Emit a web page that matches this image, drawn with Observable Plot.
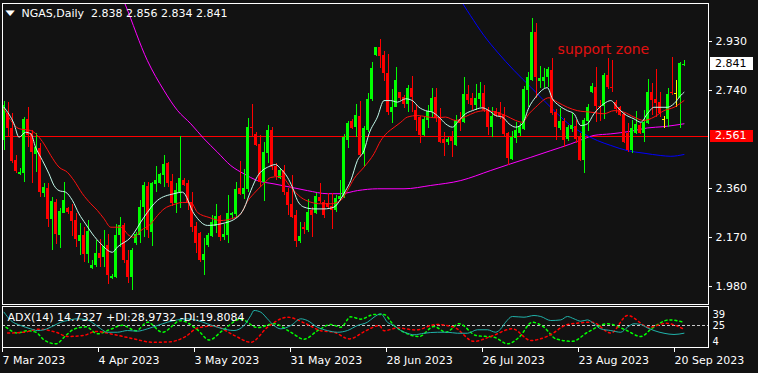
<!DOCTYPE html>
<html><head><meta charset="utf-8">
<script src="https://cdn.jsdelivr.net/npm/d3@7"></script>
<script src="https://cdn.jsdelivr.net/npm/@observablehq/plot@0.6"></script>
<style>
html,body{margin:0;padding:0;background:#121212;}
#wrap{position:relative;width:758px;height:373px;overflow:hidden;background:#121212;}
#wrap svg{position:absolute;left:0;}
.lbl{position:absolute;left:710px;width:38px;padding-left:5px;font:11px "DejaVu Sans",sans-serif;}
</style></head><body><div id="wrap"></div>
<script>
// ---- daily OHLC, bar index 0..170 ----
const open = [2.546,2.650,2.592,2.469,2.414,2.417,2.626,2.572,2.492,2.514,
2.340,2.361,2.240,2.307,2.178,2.264,2.281,2.272,2.236,2.156,
2.178,2.104,2.049,2.062,2.109,2.094,2.139,2.012,2.014,2.178,
2.217,2.081,2.014,2.146,2.178,2.288,2.368,2.191,2.376,2.378,
2.411,2.458,2.387,2.303,2.346,2.391,2.378,2.307,2.213,2.187,
2.081,2.139,2.174,2.213,2.252,2.171,2.178,2.255,2.259,2.359,
2.337,2.355,2.597,2.569,2.531,2.385,2.495,2.585,2.445,2.398,
2.430,2.346,2.298,2.255,2.156,2.210,2.197,2.275,2.264,2.326,
2.307,2.301,2.290,2.275,2.316,2.326,2.546,2.621,2.598,2.639,
2.492,2.585,2.704,2.876,2.906,2.876,2.807,2.656,2.675,2.733,
2.712,2.686,2.747,2.663,2.637,2.566,2.624,2.656,2.712,2.634,
2.549,2.540,2.559,2.527,2.624,2.617,2.725,2.708,2.682,2.704,
2.727,2.665,2.598,2.660,2.656,2.647,2.574,2.471,2.553,2.572,
2.588,2.740,2.779,2.966,2.776,2.776,2.792,2.818,2.656,2.592,
2.621,2.549,2.588,2.601,2.559,2.469,2.621,2.733,2.751,2.678,
2.678,2.798,2.753,2.695,2.673,2.647,2.574,2.507,2.574,2.604,
2.574,2.613,2.733,2.704,2.695,2.626,2.626,2.732,2.727,2.708,
2.838];
const high = [2.697,2.695,2.650,2.488,2.437,2.634,2.675,2.585,2.572,2.533,
2.378,2.378,2.326,2.316,2.281,2.385,2.288,2.298,2.262,2.226,
2.210,2.236,2.081,2.159,2.161,2.197,2.182,2.027,2.221,2.249,
2.223,2.120,2.126,2.191,2.314,2.385,2.385,2.385,2.445,2.418,
2.488,2.462,2.414,2.378,2.562,2.398,2.391,2.346,2.229,2.191,
2.165,2.184,2.255,2.298,2.255,2.221,2.333,2.268,2.385,2.465,
2.433,2.630,2.686,2.578,2.566,2.540,2.604,2.598,2.456,2.437,
2.449,2.359,2.411,2.275,2.229,2.229,2.316,2.288,2.342,2.378,
2.314,2.340,2.340,2.333,2.391,2.570,2.621,2.626,2.686,2.699,
2.601,2.727,2.850,2.908,2.937,2.892,2.880,2.743,2.828,2.733,
2.721,2.759,2.794,2.682,2.639,2.639,2.682,2.747,2.747,2.669,
2.578,2.559,2.582,2.643,2.656,2.789,2.759,2.727,2.763,2.772,
2.759,2.675,2.673,2.669,2.695,2.673,2.578,2.582,2.617,2.611,
2.756,2.811,3.018,2.999,2.833,2.825,2.828,2.863,2.665,2.669,
2.630,2.604,2.650,2.624,2.572,2.630,2.686,2.768,2.830,2.701,
2.805,2.863,2.856,2.701,2.678,2.652,2.611,2.624,2.660,2.611,
2.663,2.782,2.766,2.820,2.733,2.639,2.747,2.869,2.779,2.848,
2.856];
const low = [2.507,2.559,2.456,2.419,2.411,2.385,2.520,2.378,2.423,2.326,
2.324,2.210,2.120,2.143,2.129,2.262,2.259,2.174,2.133,2.100,
2.074,2.071,2.045,2.053,2.053,2.055,1.988,2.006,2.010,2.133,
2.068,1.991,1.965,2.139,2.147,2.171,2.165,2.136,2.346,2.376,
2.363,2.363,2.290,2.264,2.281,2.368,2.275,2.191,2.107,2.074,
2.023,2.133,2.169,2.184,2.156,2.159,2.146,2.243,2.249,2.333,
2.316,2.346,2.559,2.523,2.365,2.311,2.456,2.430,2.391,2.394,
2.333,2.255,2.243,2.133,2.146,2.182,2.191,2.169,2.259,2.301,
2.243,2.281,2.200,2.268,2.311,2.320,2.514,2.588,2.557,2.481,
2.443,2.578,2.699,2.872,2.824,2.776,2.643,2.613,2.673,2.701,
2.669,2.656,2.656,2.582,2.533,2.562,2.592,2.637,2.617,2.533,
2.485,2.527,2.481,2.523,2.582,2.611,2.686,2.663,2.663,2.675,
2.656,2.566,2.559,2.634,2.626,2.562,2.449,2.469,2.533,2.562,
2.585,2.675,2.776,2.708,2.747,2.748,2.753,2.643,2.546,2.585,
2.520,2.543,2.578,2.533,2.466,2.419,2.582,2.727,2.617,2.621,
2.626,2.743,2.733,2.650,2.639,2.533,2.501,2.496,2.569,2.569,
2.540,2.608,2.643,2.634,2.634,2.592,2.598,2.720,2.675,2.593,
2.834];
const close = [2.682,2.592,2.466,2.427,2.423,2.626,2.566,2.501,2.520,2.346,
2.365,2.240,2.311,2.182,2.272,2.314,2.268,2.233,2.161,2.178,
2.104,2.193,2.062,2.107,2.090,2.136,2.023,2.020,2.178,2.217,
2.081,2.016,2.120,2.182,2.288,2.372,2.197,2.378,2.391,2.414,
2.453,2.381,2.303,2.352,2.398,2.372,2.303,2.210,2.146,2.081,
2.104,2.178,2.229,2.252,2.171,2.182,2.264,2.262,2.355,2.337,
2.359,2.598,2.591,2.527,2.385,2.501,2.585,2.443,2.407,2.430,
2.346,2.294,2.249,2.156,2.174,2.200,2.268,2.255,2.329,2.311,
2.255,2.285,2.275,2.320,2.329,2.557,2.611,2.592,2.643,2.488,
2.592,2.705,2.824,2.906,2.872,2.805,2.656,2.673,2.779,2.708,
2.686,2.747,2.712,2.624,2.566,2.626,2.660,2.708,2.630,2.540,
2.536,2.549,2.543,2.624,2.613,2.725,2.701,2.682,2.708,2.727,
2.663,2.598,2.639,2.639,2.639,2.569,2.475,2.559,2.585,2.601,
2.743,2.792,2.966,2.792,2.785,2.792,2.820,2.650,2.595,2.621,
2.546,2.595,2.604,2.549,2.469,2.624,2.673,2.756,2.678,2.673,
2.798,2.751,2.748,2.665,2.643,2.540,2.507,2.593,2.608,2.574,
2.617,2.733,2.701,2.691,2.652,2.626,2.725,2.727,2.727,2.844,
2.841];
const dojiBars = [165, 168];

// ---- moving averages: [bar index, price] ----
const fastMA = [[0,2.675],[2.5,2.611],[3.75,2.559],[5.4,2.578],[6.7,2.572],[7.9,2.520],[9.6,2.469],[11.25,2.417],[12.5,2.372],[13.75,2.352],[15.4,2.346],[17.1,2.314],[18.75,2.262],[20.4,2.223],[22.1,2.184],[24.2,2.146],[27.1,2.113],[28.35,2.133],[31.7,2.171],[35,2.249],[38.35,2.314],[42.5,2.340],[44.6,2.346],[47.5,2.262],[50.85,2.217],[54.2,2.223],[58.35,2.249],[60,2.283],[61.7,2.352],[63.35,2.407],[66.2,2.445],[67.9,2.453],[69.2,2.436],[70.85,2.404],[72.1,2.365],[73.35,2.314],[75,2.288],[77.5,2.281],[80,2.281],[82.5,2.288],[84.2,2.320],[85.4,2.352],[86.7,2.391],[88.35,2.469],[90,2.507],[91.25,2.572],[93.35,2.637],[95,2.701],[96.7,2.701],[98.35,2.695],[100.4,2.708],[102.1,2.701],[103.75,2.675],[105.4,2.662],[107.1,2.656],[108.75,2.637],[110.4,2.611],[112.1,2.598],[113.75,2.624],[115.4,2.650],[117.1,2.662],[119.6,2.673],[121.25,2.662],[122.9,2.643],[124.6,2.637],[126.25,2.611],[127.9,2.598],[129.6,2.611],[131.25,2.675],[132.9,2.714],[135.85,2.751],[137.1,2.708],[138.75,2.682],[140.85,2.662],[142.5,2.650],[144.2,2.604],[145.85,2.611],[147.5,2.650],[150,2.689],[151.7,2.701],[153.35,2.675],[155,2.650],[157.5,2.630],[159.2,2.617],[160.85,2.650],[162.5,2.675],[165.85,2.675],[167.5,2.689],[169.2,2.721],[170,2.733]];
const slowMA = [[0,2.669],[1.7,2.624],[3.75,2.592],[6.7,2.585],[8.35,2.566],[10,2.533],[11.7,2.488],[13.75,2.443],[15.85,2.423],[17.5,2.391],[19.6,2.340],[21.7,2.301],[23.35,2.275],[25,2.243],[26.7,2.210],[29.2,2.210],[31.25,2.178],[32.5,2.171],[34.2,2.197],[36.7,2.223],[38.35,2.255],[40,2.281],[42.5,2.298],[44.6,2.306],[46.7,2.306],[48.4,2.267],[51.25,2.248],[54.2,2.236],[56.9,2.243],[59.2,2.262],[60.85,2.310],[62.5,2.341],[65,2.380],[66.7,2.403],[69.2,2.407],[71.7,2.365],[74.2,2.326],[76.7,2.307],[79.2,2.301],[81.7,2.301],[84.2,2.314],[85.85,2.352],[87.5,2.398],[90,2.443],[92.5,2.495],[94.2,2.546],[95.85,2.577],[97.5,2.597],[99.2,2.617],[100.85,2.637],[103.35,2.643],[105.4,2.639],[107.9,2.634],[110.4,2.637],[112.9,2.624],[115.4,2.639],[117.9,2.656],[120.4,2.662],[122.9,2.656],[125.4,2.643],[127.9,2.624],[129.6,2.617],[131.25,2.650],[132.9,2.675],[136.25,2.712],[138.35,2.695],[140.85,2.675],[143.35,2.662],[146.7,2.656],[150,2.650],[152.5,2.662],[155,2.656],[157.5,2.637],[160,2.624],[162.5,2.637],[165,2.662],[167.5,2.675],[170,2.701]];
const longMA = [[28,3.16],[30.25,3.076],[35.85,2.856],[40,2.740],[43.35,2.663],[46.7,2.611],[50,2.553],[53.35,2.501],[56.7,2.449],[60,2.417],[63.35,2.391],[67.5,2.378],[71.7,2.365],[75.85,2.352],[80.85,2.340],[84.2,2.340],[88.35,2.352],[93.35,2.359],[100,2.359],[106.7,2.372],[114.2,2.391],[121.7,2.430],[126.7,2.456],[131.7,2.481],[136.7,2.507],[141.7,2.533],[145,2.553],[147.5,2.566],[151.7,2.572],[156.7,2.582],[160.85,2.595],[165,2.600],[170,2.611]];
const blueMA = [[113,3.12],[115.8,3.050],[116.6,3.031],[120,2.953],[123.35,2.889],[127.5,2.818],[131.7,2.753],[135,2.701],[138.35,2.650],[141.7,2.604],[145,2.572],[148.35,2.546],[151.7,2.527],[155.85,2.507],[160,2.497],[164.2,2.488],[166.7,2.485],[170,2.492]];

// ---- ADX(14) panel: [bar index, value] ----
const adx = [[0,42],[1.7,31.2],[4.2,24.7],[6.7,20.4],[8.35,18.2],[10,19.2],[12.5,24.7],[14.2,29],[15.85,31.2],[18.35,33.4],[20.85,32],[22.5,27],[24.2,20.4],[25.85,16],[28.35,16],[30.85,18.2],[33.35,17.4],[35.85,20.4],[38.35,24.7],[40.85,29],[43.35,32],[45.85,33.4],[48.35,31.2],[50.85,27],[53.35,22.5],[55.85,19.2],[57.5,18.2],[60,24.7],[61.7,37.7],[62.5,44.2],[64.2,42],[65.85,33.4],[67.5,24.7],[69.2,20.4],[71.7,24.7],[74.2,33.4],[75.85,31.2],[78.35,22.5],[80.85,18.2],[83.35,16],[85.85,18.2],[88.35,24.7],[90.85,29],[92.5,35.5],[94.2,39.9],[95.85,29],[97.5,24.7],[99.2,18.2],[100.85,14.7],[102.5,12.7],[105,14.7],[108.35,16],[110.85,16],[113.35,14.7],[115.85,14.7],[118.35,19.2],[120.85,19.2],[122.9,16],[124.2,20.4],[125.4,29],[127.1,36.4],[130,35.5],[132.5,37.7],[134.2,36.4],[136.7,31.2],[139.2,32],[140.85,36.4],[142.5,33.4],[144.2,30.3],[145.85,32],[147.5,27],[149.2,20.4],[151.7,18.2],[154.2,16],[155.85,22.5],[157.5,27],[159.2,26],[160.85,21.7],[162.5,18.2],[165,14.7],[167.5,13.1],[170,14.73]];
const plusDI = [[0.5,22.5],[3.4,15],[5.9,18],[8,16],[10,6],[13,1],[15.5,12],[17.5,20],[20.5,23],[23.4,14],[26.7,20],[29.6,25],[33,18],[35.9,29],[39.6,16],[44.2,31],[48.4,19],[51.3,6],[54.6,18],[59.2,33],[63.4,22],[67.5,27],[71.7,16],[75,7],[78.4,18],[81.7,26],[84.2,22.5],[86.7,36],[89.2,33],[92.5,39],[95,39],[97.5,24.7],[100,16],[103.8,10.5],[107.5,23.4],[110.5,16],[113.8,27],[118,11.8],[122.5,9.6],[125.9,1],[128.8,9.6],[132.1,29],[135,22.5],[138,7.4],[142.1,4.2],[145.9,16],[150.9,27],[155.4,19],[159.2,10.5],[162.1,21.5],[166.3,32],[170,28.97]];
const minusDI = [[0.9,15],[5,16],[8.8,20],[13,16],[15.9,10.5],[20,12],[23,17],[27.5,13],[32.5,7.4],[37.1,3],[41.3,3.5],[45.4,10.5],[48.4,21.5],[52.5,24],[57.5,12],[61.7,3],[65.9,22.5],[70.9,35.5],[75.5,27],[79.2,18],[82.5,16],[86.3,7.4],[90.5,18],[93.8,24.7],[95,18],[98.4,21.5],[103,19],[108,26],[112.5,22.5],[117.5,4.2],[121.7,10.5],[127.1,20.4],[131.7,5.3],[136.3,11.8],[140.9,26],[147.1,29],[151.7,15],[155.9,37.7],[161.3,22.5],[165.5,27.5],[170,19.81]];

// ---- axis ticks / labels ----
const priceTicks = [1.980, 2.170, 2.360, 2.740, 2.930];
const adxTicks = [4, 25, 39];
const dateTickBars = [0, 24, 48, 72, 96, 120, 144, 168];
const dateTickLabels = ["7 Mar 2023", "4 Apr 2023", "3 May 2023", "31 May 2023", "28 Jun 2023", "26 Jul 2023", "23 Aug 2023", "20 Sep 2023"];
const supportLevel = 2.561;
const lastPrice = 2.841;
const titleText = "NGAS,Daily \u00a02.838 2.856 2.834 2.841";
const adxText = "ADX(14) 14.7327 +DI:28.9732 -DI:19.8084";
const note = {text: "support zone", bar: 138.4, price: 2.898};

const COLORS = {up: "#00ff00", down: "#ff0000", doji: "#ffff00"};
const bars = open.map((o, i) => ({
  i, o, h: high[i], l: low[i], c: close[i],
  kind: dojiBars.includes(i) ? "doji" : (close[i] > o ? "up" : "down")
}));
const col = d => COLORS[d.kind];
const xDomain = [-0.375, 176.125];
const FONT = "'DejaVu Sans', sans-serif";
const style = {background: "transparent", color: "#ffffff", fontFamily: FONT, fontSize: "11px", overflow: "visible"};

const main = Plot.plot({
  width: 758, height: 305,
  marginLeft: 2, marginRight: 50, marginTop: 3, marginBottom: 1,
  x: {domain: xDomain, axis: null},
  y: {domain: [1.9104, 3.0774], axis: null},
  style,
  marks: [
    Plot.ruleY([supportLevel], {stroke: "#ff0000", strokeWidth: 1, shapeRendering: "crispEdges"}),
    Plot.line(longMA, {x: d => d[0], y: d => d[1], stroke: "#ff00ff", strokeWidth: 1, curve: "monotone-x", clip: true}),
    Plot.line(blueMA, {x: d => d[0], y: d => d[1], stroke: "#0000ff", strokeWidth: 1, curve: "monotone-x", clip: true}),
    Plot.ruleX(bars, {x: "i", y1: "l", y2: "h", stroke: col, strokeWidth: 1, shapeRendering: "crispEdges"}),
    Plot.rect(bars, {x1: d => d.i - 0.375, x2: d => d.i + 0.375, y1: "o", y2: "c", fill: col, shapeRendering: "crispEdges"}),
    Plot.ruleY(bars.filter(d => Math.abs(d.o - d.c) < 0.004), {x1: d => d.i - 0.375, x2: d => d.i + 0.375, y: "c", stroke: col, shapeRendering: "crispEdges"}),
    Plot.line(slowMA, {x: d => d[0], y: d => d[1], stroke: "#ff1010", strokeWidth: 1, curve: "monotone-x"}),
    Plot.line(fastMA, {x: d => d[0], y: d => d[1], stroke: "#c4fbec", strokeWidth: 1, curve: "monotone-x"}),
    Plot.axisY({anchor: "right", ticks: priceTicks, tickSize: 3, tickPadding: 4, tickFormat: d3.format(".3f"), fontSize: 11}),
    Plot.frame({stroke: "#ffffff", shapeRendering: "crispEdges"}),
    Plot.text([titleText], {frameAnchor: "top-left", dx: 19, dy: 6, fill: "#ffffff", fontSize: 11}),
    Plot.text(["\u25BC"], {frameAnchor: "top-left", dx: 3, dy: 5, fill: "#ffffff", fontSize: 12, className: "tri"}),
    Plot.text([note], {x: "bar", y: "price", text: "text", textAnchor: "start", lineAnchor: "middle", fill: "#e01010", fontSize: 14})
  ]
});
main.style.top = "0px";

const ind = Plot.plot({
  width: 758, height: 68,
  marginLeft: 2, marginRight: 50, marginTop: 1, marginBottom: 26,
  x: {domain: xDomain, axis: null},
  y: {domain: [-3.78, 49.37], axis: null},
  style,
  marks: [
    Plot.ruleY([25], {stroke: "#c8c8c8", strokeDasharray: "3,2", shapeRendering: "crispEdges"}),
    Plot.line(plusDI, {x: d => d[0], y: d => d[1], stroke: "#00ff00", strokeDasharray: "2,3", curve: "monotone-x"}),
    Plot.line(minusDI, {x: d => d[0], y: d => d[1], stroke: "#ff0000", strokeDasharray: "2,3", curve: "monotone-x"}),
    Plot.line(adx, {x: d => d[0], y: d => d[1], stroke: "#20b2aa", strokeWidth: 1, curve: "monotone-x"}),
    Plot.text([adxText], {frameAnchor: "top-left", dx: 5, dy: 7, fill: "#ffffff", fontSize: 11}),
    Plot.axisY({anchor: "right", ticks: adxTicks, tickSize: 0, tickPadding: 4, fontSize: 10}),
    Plot.axisX({anchor: "bottom", ticks: dateTickBars, tickSize: 5, tickPadding: 4, textAnchor: "start", dx: -1.5,
      tickFormat: d => dateTickLabels[dateTickBars.indexOf(d)], fontSize: 11}),
    Plot.frame({stroke: "#ffffff", shapeRendering: "crispEdges"})
  ]
});
ind.style.top = "305px";

const wrap = document.getElementById("wrap");
wrap.appendChild(main);
wrap.appendChild(ind);

// flatten the little menu triangle like the terminal's glyph
const tri = main.querySelector("g.tri text");
if (tri) {
  const prev = tri.getAttribute("transform") || "";
  tri.setAttribute("transform", prev + " translate(0,1.5) scale(1,0.6)");
}

// price labels on the right axis, placed with the plot's own y scale
const ys = main.scale("y");
function tag(value, bg, fg, h) {
  const d = document.createElement("div");
  d.className = "lbl";
  d.textContent = d3.format(".3f")(value);
  d.style.background = bg; d.style.color = fg;
  d.style.height = h + "px"; d.style.lineHeight = h + "px";
  d.style.top = (ys.apply(value) - h / 2) + "px";
  wrap.appendChild(d);
}
tag(lastPrice, "#ffffff", "#000000", 13);
tag(supportLevel, "#ff0000", "#ffffff", 12);
</script></body></html>
